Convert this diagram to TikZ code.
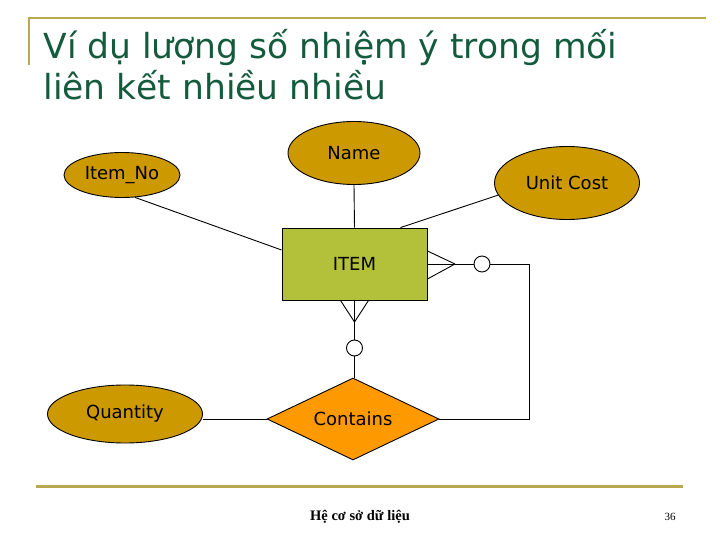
\documentclass[tikz,border=0pt]{standalone}
\usepackage{fontspec}
\setmainfont{DejaVu Sans}
\newfontfamily\footfont{Liberation Serif}
\usetikzlibrary{shapes.geometric}

\definecolor{titlegreen}{RGB}{20,90,60}
\definecolor{rulegold}{RGB}{184,168,80}
\definecolor{attrgold}{RGB}{204,153,0}
\definecolor{entgreen}{RGB}{178,192,58}
\definecolor{relorange}{RGB}{255,153,0}

\begin{document}
\begin{tikzpicture}[x=1pt,y=-1pt,line width=0.9pt,
  attr/.style={ellipse,draw,fill=attrgold,inner sep=0pt,font=\fontsize{18}{21}\selectfont},
  entity/.style={rectangle,draw,fill=entgreen,minimum width=145pt,minimum height=72pt,font=\fontsize{18}{21}\selectfont},
  relship/.style={diamond,draw,fill=relorange,inner sep=0pt,shape aspect=2.1,minimum width=172pt,minimum height=82pt,font=\fontsize{18}{21}\selectfont},
  optring/.style={circle,draw,fill=white,inner sep=0pt,minimum size=16pt},
  title/.style={anchor=base west,inner sep=0pt,text=titlegreen,font=\fontsize{34.5}{41}\selectfont}]
\useasboundingbox (0,0) rectangle (720,540);

% Frame
\draw[rulegold,line width=2pt] (29,65) -- (29,18) -- (706,18);
\draw[rulegold,line width=3pt] (36,486) -- (683,486);

% Title
\node[title] (title1) at (43,59) {Ví dụ lượng số nhiệm ý trong mối};
\node[title] (title2) at (43,100) {liên kết nhiều nhiều};

% Nodes
\node[attr,minimum width=116pt,minimum height=45pt] (itemno) at (122,175) {Item\_No};
\node[attr,minimum width=132pt,minimum height=63pt] (name) at (354,153) {Name};
\node[attr,minimum width=145pt,minimum height=73pt] (unitcost) at (567,183) {Unit Cost};
\node[attr,minimum width=155pt,minimum height=58pt] (quantity) at (125,414) {Quantity};
\node[entity] (item) at (354.5,264) {ITEM};
\node[relship] (contains) at (353,419) {Contains};
\coordinate (rfoot) at (455,264);
\coordinate (bfoot) at (354.5,322);
\coordinate (loop) at (529,264);

% Lines
\draw (itemno.-60) -- ([yshift=14pt]item.west);
\draw (name.south) -- (item.north);
\draw (unitcost.190) -- ([xshift=46pt]item.north);
\draw (contains.west) -- (contains.west -| quantity.east);
\draw ([yshift=13pt]item.east) -- (rfoot);
\draw (item.east) -- (rfoot);
\draw ([yshift=-15pt]item.east) -- (rfoot);
\draw (rfoot) -- (loop) |- (contains.east);
\draw ([xshift=-14pt]item.south) -- (bfoot);
\draw (item.south) -- (bfoot);
\draw ([xshift=14pt]item.south) -- (bfoot);
\draw (bfoot) -- (bfoot |- contains.north);
\node[optring] (rring) at (482,264) {};
\node[optring] (bring) at (354.5,348) {};

% Footer
\node[anchor=base,inner sep=0pt,font=\footfont\bfseries\fontsize{14.5}{16}\selectfont] (foot) at (360,520) {Hệ cơ sở dữ liệu};
\node[anchor=base,inner sep=0pt,font=\footfont\fontsize{11}{13}\selectfont] (page) at (670,520) {36};
\end{tikzpicture}
\end{document}
